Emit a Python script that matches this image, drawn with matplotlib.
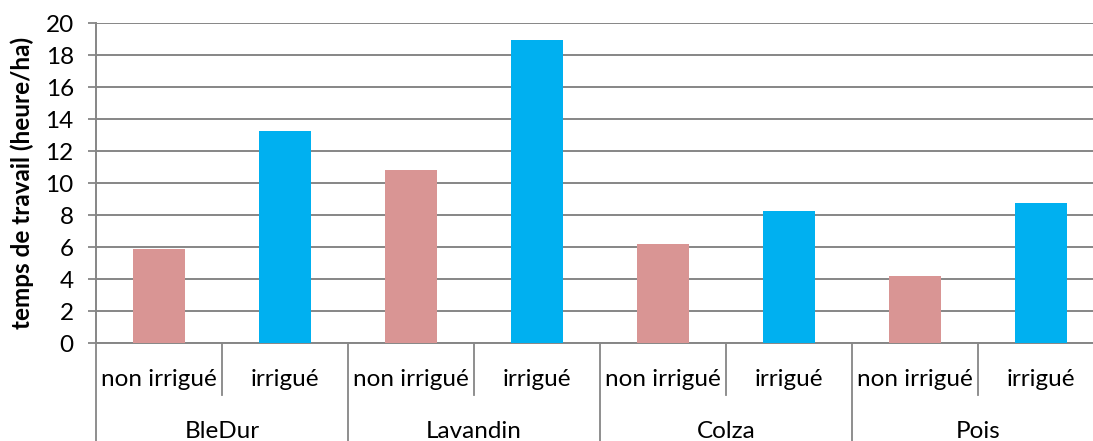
import matplotlib
matplotlib.use("Agg")
import matplotlib.pyplot as plt

groups = ["BleDur", "Lavandin", "Colza", "Pois"]
subcats = ["non irrigué", "irrigué"]
non_irrigue = [5.9, 10.85, 6.2, 4.2]
irrigue = [13.3, 18.95, 8.3, 8.8]
yticks = list(range(0, 21, 2))
ylabel = "temps de travail (heure/ha)"

FONT = "Lato"
plt.rcParams['font.family'] = [FONT, 'DejaVu Sans']

W, H = 1093, 441
fig = plt.figure(figsize=(W / 100, H / 100), dpi=100)
ax_left, ax_bottom = 96 / W, (H - 343.3) / H
ax_w, ax_h = 1008 / W, 320 / H
ax = fig.add_axes([ax_left, ax_bottom, ax_w, ax_h])

values = []
colors = []
labels = []
for g, a, b in zip(groups, non_irrigue, irrigue):
    values += [a, b]
    colors += ["#D99594", "#00B0F0"]
    labels += subcats
x = list(range(len(values)))
ax.bar(x, values, width=0.405, color=colors, zorder=3)

ax.set_xlim(-0.5, len(values) - 0.5)
ax.set_ylim(0, 20)
ax.set_yticks(yticks)
ax.set_yticklabels([str(t) for t in yticks], fontsize=17.5)
ax.yaxis.grid(True, color="#868686", linewidth=1.4, zorder=0)
ax.tick_params(axis='y', length=6, width=1.3, color="#868686", direction='out', pad=10)
ax.set_xticks([])
for s in ["top", "right"]:
    ax.spines[s].set_visible(False)
for s in ["left", "bottom"]:
    ax.spines[s].set_color("#868686")
    ax.spines[s].set_linewidth(1.4)
ax.set_ylabel(ylabel, fontsize=17.5, fontweight="bold", labelpad=8)

tr = ax.get_xaxis_transform()
n = len(values)
for k in range(n + 1):
    xb = k - 0.5
    if k % 2 == 0:
        ax.plot([xb, xb], [0, -0.32], transform=tr, color="#868686", lw=1.3, clip_on=False)
    else:
        ax.plot([xb, xb], [0, -0.162], transform=tr, color="#868686", lw=1.3, clip_on=False)
for i, lab in enumerate(labels):
    ax.text(i, -0.112, lab, transform=tr, ha="center", va="center", fontsize=17.5)
for gi, g in enumerate(groups):
    ax.text(2 * gi + 0.5, -0.275, g, transform=tr, ha="center", va="center", fontsize=17.5)

fig.savefig("out.png", dpi=100)
